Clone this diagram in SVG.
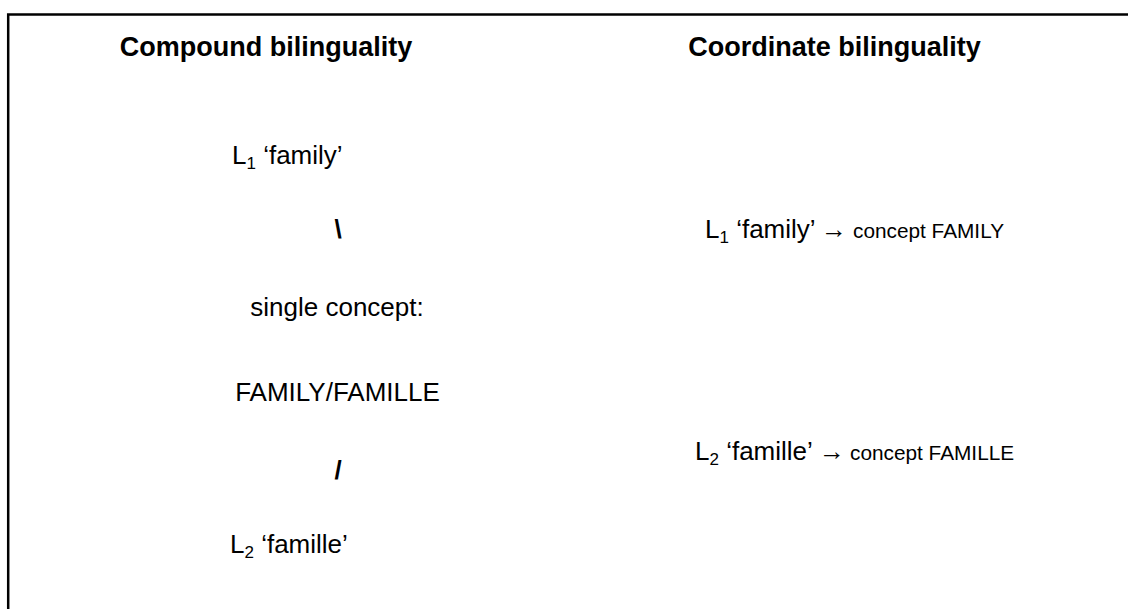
<svg xmlns="http://www.w3.org/2000/svg" width="1128" height="609" viewBox="0 0 1128 609">
<style>
text{font-family:"Liberation Sans",Arial,sans-serif;fill:#000}
.h{font-size:27px;font-weight:bold}
.t{font-size:26px}
.b{font-weight:bold}
.s{font-size:20.8px}
.a{font-size:26px}
.sub{font-size:17px}
</style>
<rect width="1128" height="609" fill="#fff"/>
<rect x="8.2" y="14.5" width="1200" height="700" fill="none" stroke="#000" stroke-width="2.5"/>
<g id="compound">
<text class="h" x="266" y="56" text-anchor="middle">Compound bilinguality</text>
<g id="c-l1"><text class="t" x="232" y="164">L<tspan class="sub" dy="5">1</tspan><tspan dy="-5"> ‘family’</tspan></text></g>
<g id="c-back"><text class="t b" x="338" y="238" text-anchor="middle">\</text></g>
<g id="c-single"><text class="t" x="337" y="316" text-anchor="middle">single concept:</text></g>
<g id="c-fam"><text class="t" x="337.5" y="401" text-anchor="middle">FAMILY/FAMILLE</text></g>
<g id="c-slash"><text class="t b" x="338" y="479" text-anchor="middle">/</text></g>
<g id="c-l2"><text class="t" x="230" y="553">L<tspan class="sub" dy="5">2</tspan><tspan dy="-5"> ‘famille’</tspan></text></g>
</g>
<g id="coordinate">
<text class="h" x="834.5" y="56" text-anchor="middle">Coordinate bilinguality</text>
<g id="r-l1"><text class="t" x="705" y="238">L<tspan class="sub" dy="5">1</tspan><tspan dy="-5"> ‘family’</tspan></text>
<text class="a" x="834" y="238" text-anchor="middle">→</text>
<text class="s" x="853" y="238">concept FAMILY</text></g>
<g id="r-l2"><text class="t" x="695" y="460">L<tspan class="sub" dy="5">2</tspan><tspan dy="-5"> ‘famille’</tspan></text>
<text class="a" x="832" y="460" text-anchor="middle">→</text>
<text class="s" x="850" y="460">concept FAMILLE</text></g>
</g>
<g id="connectors"></g>
</svg>
